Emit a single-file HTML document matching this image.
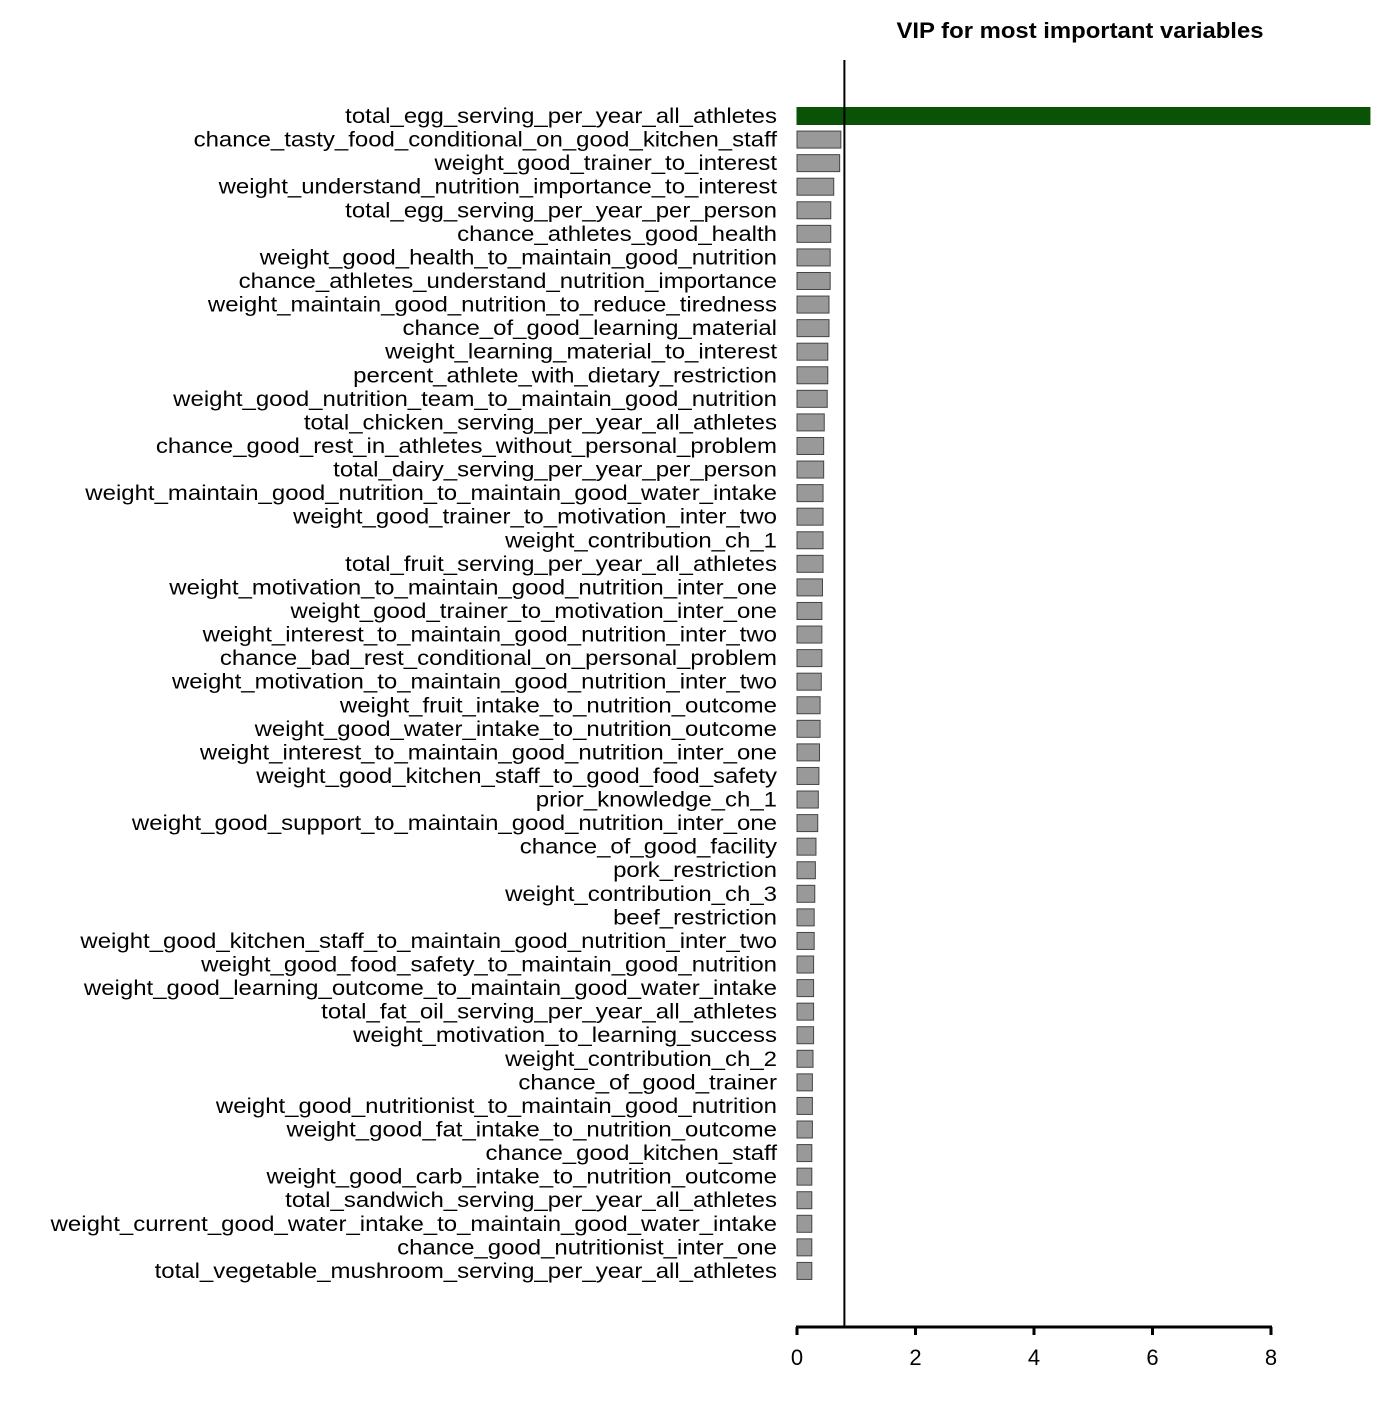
<!DOCTYPE html>
<html><head><meta charset="utf-8"><style>
body{margin:0;background:#fff}
svg text{font-family:"Liberation Sans",Arial,sans-serif}
</style></head><body>
<svg id="chart" width="1400" height="1400" viewBox="0 0 1400 1400" xmlns="http://www.w3.org/2000/svg">
<text x="1080" y="38" text-anchor="middle" font-size="22" font-weight="bold" textLength="367" lengthAdjust="spacingAndGlyphs">VIP for most important variables</text>
<g id="bars"></g><g id="labels"></g><g id="axis"></g>
</svg>
<script>
const categories=["total_egg_serving_per_year_all_athletes","chance_tasty_food_conditional_on_good_kitchen_staff","weight_good_trainer_to_interest","weight_understand_nutrition_importance_to_interest","total_egg_serving_per_year_per_person","chance_athletes_good_health","weight_good_health_to_maintain_good_nutrition","chance_athletes_understand_nutrition_importance","weight_maintain_good_nutrition_to_reduce_tiredness","chance_of_good_learning_material","weight_learning_material_to_interest","percent_athlete_with_dietary_restriction","weight_good_nutrition_team_to_maintain_good_nutrition","total_chicken_serving_per_year_all_athletes","chance_good_rest_in_athletes_without_personal_problem","total_dairy_serving_per_year_per_person","weight_maintain_good_nutrition_to_maintain_good_water_intake","weight_good_trainer_to_motivation_inter_two","weight_contribution_ch_1","total_fruit_serving_per_year_all_athletes","weight_motivation_to_maintain_good_nutrition_inter_one","weight_good_trainer_to_motivation_inter_one","weight_interest_to_maintain_good_nutrition_inter_two","chance_bad_rest_conditional_on_personal_problem","weight_motivation_to_maintain_good_nutrition_inter_two","weight_fruit_intake_to_nutrition_outcome","weight_good_water_intake_to_nutrition_outcome","weight_interest_to_maintain_good_nutrition_inter_one","weight_good_kitchen_staff_to_good_food_safety","prior_knowledge_ch_1","weight_good_support_to_maintain_good_nutrition_inter_one","chance_of_good_facility","pork_restriction","weight_contribution_ch_3","beef_restriction","weight_good_kitchen_staff_to_maintain_good_nutrition_inter_two","weight_good_food_safety_to_maintain_good_nutrition","weight_good_learning_outcome_to_maintain_good_water_intake","total_fat_oil_serving_per_year_all_athletes","weight_motivation_to_learning_success","weight_contribution_ch_2","chance_of_good_trainer","weight_good_nutritionist_to_maintain_good_nutrition","weight_good_fat_intake_to_nutrition_outcome","chance_good_kitchen_staff","weight_good_carb_intake_to_nutrition_outcome","total_sandwich_serving_per_year_all_athletes","weight_current_good_water_intake_to_maintain_good_water_intake","chance_good_nutritionist_inter_one","total_vegetable_mushroom_serving_per_year_all_athletes"];
const vipValues=[9.67,0.74,0.72,0.62,0.57,0.57,0.56,0.56,0.54,0.54,0.52,0.52,0.51,0.46,0.45,0.45,0.44,0.44,0.44,0.44,0.43,0.42,0.42,0.42,0.41,0.39,0.39,0.38,0.37,0.36,0.35,0.32,0.31,0.30,0.29,0.29,0.28,0.28,0.28,0.28,0.27,0.26,0.26,0.26,0.25,0.25,0.25,0.25,0.25,0.25];
const xTicks=[0,2,4,6,8];
const threshold=0.8;
const NS="http://www.w3.org/2000/svg";
const x=v=>797+v*59.25;
const y=i=>116+i*23.57;
const bars=document.getElementById('bars'),labels=document.getElementById('labels'),axis=document.getElementById('axis');
function mk(tag,attrs,parent){const e=document.createElementNS(NS,tag);for(const k in attrs)e.setAttribute(k,attrs[k]);parent.appendChild(e);return e;}
categories.forEach((c,i)=>{
  const r=mk('rect',{x:797,y:y(i)-8.5,width:x(Math.min(vipValues[i],9.67))-797,height:17,fill:i===0?'#0a5306':'#999999',stroke:i===0?'#0a5306':'#444',"stroke-width":1},bars);
  
  
  const t=mk('text',{x:777,y:y(i)+7,"text-anchor":"end","font-size":21.5},labels);
  t.textContent=c;
  
  
  const w=t.getComputedTextLength();
  if(w>0){t.setAttribute('textLength',(w*1.115).toFixed(1));t.setAttribute('lengthAdjust','spacingAndGlyphs');}
});
const vl=mk('line',{x1:x(threshold),x2:x(threshold),y1:60,y2:1327,stroke:'#000',"stroke-width":2},axis);


const al=mk('line',{x1:x(0)-1,x2:x(8)+1,y1:1327,y2:1327,stroke:'#000',"stroke-width":3},axis);


xTicks.forEach(t=>{
  const tk=mk('line',{x1:x(t),x2:x(t),y1:1327,y2:1335,stroke:'#000',"stroke-width":3},axis);
  
  
  const tl=mk('text',{x:x(t),y:1365,"text-anchor":"middle","font-size":22},axis);
  tl.textContent=t;
  
  
});
</script>
</body></html>
